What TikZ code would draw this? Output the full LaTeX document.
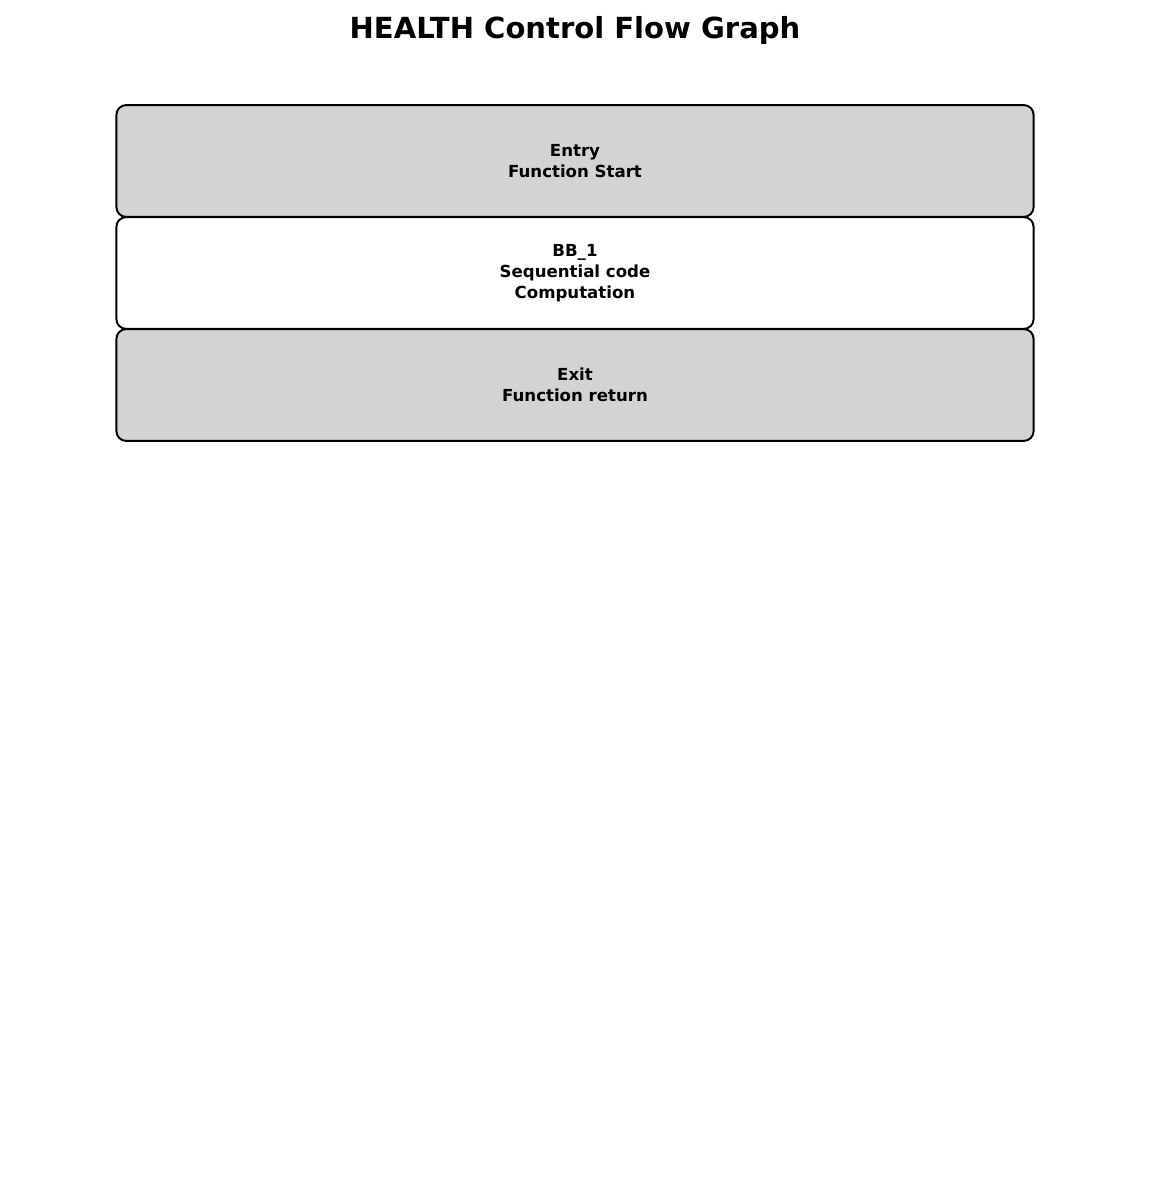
\documentclass[tikz,border=0pt]{standalone}
\usepackage{fontspec}
\setmainfont{DejaVu Sans}
\usepackage{tikz}

\begin{document}
\begin{tikzpicture}[x=0.0254cm,y=-0.0254cm,
    block/.style={draw,line width=1.4pt,rounded corners=7pt,minimum width=23.3cm,
      minimum height=2.84cm,align=center,font=\bfseries\fontsize{12}{15}\selectfont},
    grey/.style={block,fill={rgb,255:red,211;green,211;blue,211}}]
      \useasboundingbox (0,0) rectangle (1150,1184);
      \node[font=\bfseries\fontsize{21}{25}\selectfont] (title) at (575,30) {HEALTH Control Flow Graph};
      % three basic blocks stacked, no edges drawn
      \node[grey] (entry) at (575,161) {Entry\\Function Start};
      \node[block] (bb1) at (575,273) {BB\_1\\Sequential code\\Computation};
      \node[grey] (exit) at (575,385) {Exit\\Function return};
    \end{tikzpicture}
\end{document}
